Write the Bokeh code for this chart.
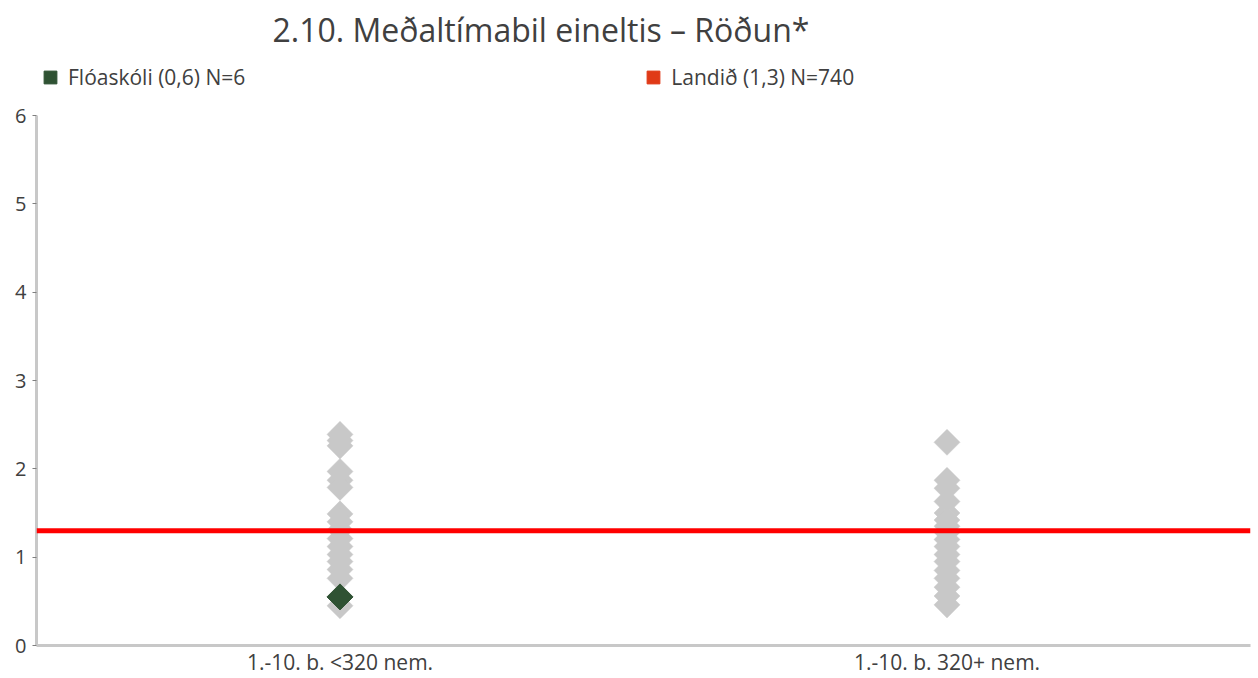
import math
from bokeh.plotting import figure
from bokeh.models import ColumnDataSource, Span, Legend, LegendItem, FactorRange, Range1d
from bokeh.embed import file_html
from bokeh.resources import INLINE

# ---- data ----
categories = ["1.-10. b. <320 nem.", "1.-10. b. 320+ nem."]
small_school_values = [2.39, 2.32, 2.26, 1.97, 1.87, 1.79, 1.49, 1.40, 1.31, 1.21,
                       1.12, 1.03, 0.95, 0.86, 0.76, 0.55, 0.45]
large_school_values = [2.30, 1.87, 1.78, 1.63, 1.50, 1.42, 1.35, 1.28, 1.20, 1.12,
                       1.03, 0.95, 0.85, 0.76, 0.66, 0.56, 0.46]
school_name = "Flóaskóli"
school_category = "1.-10. b. <320 nem."
school_value = 0.55
school_n = 6
national_value = 1.3
national_n = 740
y_ticks = [0, 1, 2, 3, 4, 5, 6]
title_text = "2.10. Meðaltímabil eineltis – Röðun*"

FONT = "Open Sans"
TXT = "#404040"

# layout geometry (pixels)
W, H = 1258, 678
FRAME_TOP, AXIS_TOP, FRAME_BOTTOM = 52, 115, 645
y_max = max(y_ticks)
y_end = y_max * (FRAME_BOTTOM - FRAME_TOP) / (FRAME_BOTTOM - AXIS_TOP)

p = figure(width=W, height=H, x_range=FactorRange(*categories), y_range=Range1d(0, y_end),
           output_backend="svg", toolbar_location=None,
           min_border_left=36, min_border_right=8, min_border_top=FRAME_TOP,
           min_border_bottom=H - FRAME_BOTTOM)
p.outline_line_color = None
p.xgrid.grid_line_color = None
p.ygrid.grid_line_color = None
p.background_fill_color = "white"
p.border_fill_color = "white"

# title
p.title.text = title_text
p.title.align = "left"
p.title.offset = 236
p.title.text_font = FONT
p.title.text_font_style = "normal"
p.title.text_font_size = "32px"
p.title.text_color = TXT
p.title.standoff = 4

# axes
p.yaxis.ticker = y_ticks
p.yaxis.bounds = (0, y_max)
p.yaxis.axis_line_color = "#c8c8c8"
p.yaxis.axis_line_width = 3
p.yaxis.major_tick_line_color = "#7f7f7f"
p.yaxis.major_tick_out = 4
p.yaxis.major_tick_in = 0
p.yaxis.minor_tick_line_color = None
p.yaxis.major_label_standoff = 6
p.yaxis.major_label_text_font = FONT
p.yaxis.major_label_text_font_size = "20px"
p.yaxis.major_label_text_color = TXT

p.xaxis.axis_line_color = "#c8c8c8"
p.xaxis.axis_line_width = 3
p.xaxis.major_tick_line_color = None
p.xaxis.major_tick_out = 0
p.xaxis.major_tick_in = 0
p.xaxis.minor_tick_line_color = None
p.xaxis.minor_tick_out = 0
p.xaxis.major_label_standoff = 2
p.xaxis.major_label_text_font = FONT
p.xaxis.major_label_text_font_size = "21px"
p.xaxis.major_label_text_color = TXT

# national average line
p.add_layout(Span(location=national_value, dimension="width", line_color="#ff0000", line_width=5))

# grey school points
xs = [categories[0]] * len(small_school_values) + [categories[1]] * len(large_school_values)
ys = small_school_values + large_school_values
src = ColumnDataSource(dict(x=xs, y=ys))
p.scatter("x", "y", source=src, marker="square", angle=math.pi / 4, size=18.4,
          fill_color="#c8c8c8", line_color="#c8c8c8", line_width=0.5)

# highlighted school
src2 = ColumnDataSource(dict(x=[school_category], y=[school_value]))
p.scatter("x", "y", source=src2, marker="square", angle=math.pi / 4, size=18.4,
          fill_color="#2f5233", line_color="#2f5233")

# legend proxies (hidden renderers, only used for the legend swatches)
r1 = p.vbar(x=[school_category], top=[school_value], width=0.1,
            fill_color="#2f5233", line_color="#2f5233", visible=False)
r2 = p.vbar(x=[school_category], top=[national_value], width=0.1,
            fill_color="#e03a17", line_color="#e03a17", visible=False)

def fmt(v):
    return ("%.1f" % v).replace(".", ",")

legend = Legend(items=[LegendItem(label=f"{school_name} ({fmt(school_value)}) N={school_n}", renderers=[r1]),
                       LegendItem(label=f"Landið ({fmt(national_value)}) N={national_n}", renderers=[r2])],
                location=(6, 554), orientation="horizontal", spacing=400,
                padding=0, margin=0, border_line_color=None,
                background_fill_alpha=0, inactive_fill_alpha=0,
                glyph_width=16, glyph_height=16, label_standoff=10,
                label_text_font=FONT, label_text_font_size="21px", label_text_color=TXT)
p.add_layout(legend)

open("out.html", "w").write(file_html(p, INLINE))
